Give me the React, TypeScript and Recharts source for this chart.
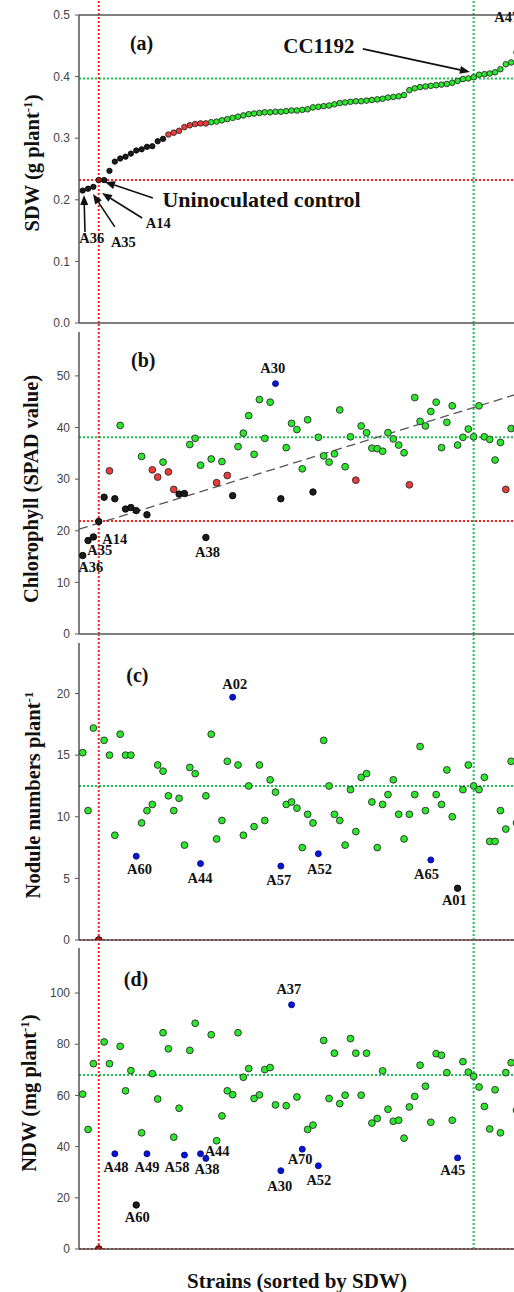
import React from 'react'
import { ScatterChart, Scatter, XAxis, YAxis, ReferenceLine, ReferenceDot } from 'recharts'

// strains sorted by SDW, index 0..81 (the rest is cut off at the right edge)
const SDW = [
  0.215, 0.218, 0.221, 0.232, 0.232, 0.247, 0.262, 0.267, 0.270, 0.275,
  0.280, 0.282, 0.286, 0.287, 0.295, 0.299, 0.306, 0.309, 0.312, 0.318,
  0.321, 0.323, 0.324, 0.324, 0.326, 0.327, 0.329, 0.331, 0.333, 0.335,
  0.337, 0.339, 0.340, 0.341, 0.342, 0.342, 0.343, 0.343, 0.344, 0.345,
  0.345, 0.346, 0.347, 0.350, 0.351, 0.352, 0.353, 0.355, 0.357, 0.358,
  0.359, 0.360, 0.360, 0.361, 0.362, 0.363, 0.364, 0.366, 0.367, 0.368,
  0.370, 0.378, 0.381, 0.383, 0.384, 0.385, 0.386, 0.387, 0.388, 0.390,
  0.393, 0.396, 0.397, 0.399, 0.403, 0.404, 0.405, 0.407, 0.412, 0.420,
  0.423, 0.439,
]
const SDW_GROUP = 'kkkckkkkkk' + 'kkkkkkrrrr' + 'rrrrgggggg' + 'gggggggggg' + 'gggggggggg' + 'gggggggggg' + 'gggggggggg' + 'gggggggggg' + 'gg'

const SPAD = [
  15.2, 18.1, 18.8, 21.8, 26.5, 31.6, 26.2, 40.4, 24.2, 24.5,
  23.9, 34.4, 23.1, 31.8, 30.4, 33.3, 31.4, 28.0, 27.1, 27.2,
  36.7, 37.9, 32.7, 18.7, 33.9, 29.3, 33.4, 30.7, 26.8, 36.3,
  38.9, 42.3, 34.8, 45.4, 37.9, 44.9, 48.5, 26.2, 36.1, 40.8,
  39.6, 32.0, 41.5, 27.5, 38.1, 34.5, 33.3, 34.9, 43.4, 32.4,
  38.2, 29.8, 40.3, 39.0, 36.0, 35.9, 35.4, 39.0, 37.8, 36.6,
  35.1, 28.9, 45.8, 41.2, 40.3, 43.1, 44.9, 36.1, 41.0, 44.2,
  36.6, 38.1, 39.7, 38.2, 44.2, 38.2, 37.7, 33.7, 37.1, 28.0,
  39.8, 39.8,
]
const SPAD_GROUP = 'kkkkkrkgkk' + 'kgkrrgrrkk' + 'gggkgrgrkg' + 'ggggggbkgg' + 'gggkgggggg' + 'grgggggggg' + 'grgggggggg' + 'gggggggggr' + 'gg'
const SPAD_TREND = [{ x: -0.69, y: 20.3 }, { x: 89.31, y: 49.1 }]

const NOD = [
  15.2, 10.5, 17.2, 0, 16.2, 15.0, 8.5, 16.7, 15.0, 15.0,
  6.8, 9.5, 10.5, 11.0, 14.2, 13.7, 11.7, 10.5, 11.5, 7.7,
  14.0, 13.5, 6.2, 11.7, 16.7, 8.2, 9.7, 14.5, 19.7, 14.2,
  8.5, 12.5, 9.2, 14.2, 9.7, 13.0, 12.0, 6.0, 11.0, 11.2,
  10.7, 7.5, 10.2, 9.5, 7.0, 16.2, 12.5, 10.2, 9.7, 7.7,
  12.2, 8.8, 13.2, 13.5, 11.2, 7.5, 11.0, 11.8, 13.0, 10.2,
  8.2, 10.2, 11.8, 15.7, 10.5, 6.5, 11.8, 11.0, 13.8, 10.0,
  4.2, 12.2, 14.2, 12.5, 12.2, 13.2, 8.0, 8.0, 10.5, 9.0,
  14.5, 9.5,
]
const NOD_GROUP = 'gggcgggggg' + 'bggggggggg' + 'ggbgggggbg' + 'gggggggbgg' + 'ggggbggggg' + 'gggggggggg' + 'gggggbgggg' + 'kggggggggg' + 'gg'

const NDW = [
  60.5, 46.7, 72.4, 0, 80.9, 72.4, 37.2, 79.2, 61.8, 69.7,
  17.2, 45.4, 37.2, 68.5, 58.6, 84.5, 78.2, 43.7, 55.0, 36.7,
  77.6, 88.2, 37.2, 35.4, 83.7, 42.3, 52.0, 61.8, 60.3, 84.5,
  67.1, 70.5, 58.8, 60.2, 70.1, 70.9, 56.3, 30.6, 56.0, 95.4,
  59.4, 39.0, 46.7, 48.4, 32.5, 81.5, 58.8, 76.5, 56.8, 60.1,
  82.2, 76.5, 60.1, 76.5, 49.2, 51.0, 69.6, 54.6, 49.9, 50.3,
  43.3, 55.5, 59.6, 71.8, 63.6, 49.5, 76.3, 75.7, 68.9, 50.3,
  35.6, 73.2, 69.1, 67.5, 63.3, 55.7, 46.9, 62.2, 45.4, 68.9,
  72.8, 54.2,
]
const NDW_GROUP = 'gggcggbggg' + 'kgbggggggb' + 'ggbbgggggg' + 'gggggggbgb' + 'gbggbggggg' + 'gggggggggg' + 'gggggggggg' + 'bggggggggg' + 'gg'

const CONTROL_IDX = 3
const CC1192_IDX = 73
const X_DOMAIN: [number, number] = [-0.69, 89.31]

// text annotations [label, x, y]
const LABELS_A: [string, number, number][] = [
  ['A14', 14.1, 0.162], ['A35', 7.6, 0.132], ['A36', 1.7, 0.1375], ['A47', 79.2, 0.497],
]
const LABELS_B: [string, number, number][] = [
  ['A30', 35.5, 51.5], ['A14', 6.0, 18.35], ['A35', 3.2, 16.2], ['A36', 1.5, 12.9], ['A38', 23.3, 15.8],
]
const LABELS_C: [string, number, number][] = [
  ['A02', 28.4, 20.8], ['A60', 10.6, 5.8], ['A44', 21.9, 5.0], ['A57', 36.6, 4.9],
  ['A52', 44.2, 5.8], ['A65', 64.2, 5.35], ['A01', 69.4, 3.25],
]
const LABELS_D: [string, number, number][] = [
  ['A48', 6.2, 32.2], ['A49', 12.0, 32.2], ['A58', 17.6, 32.2], ['A44', 25.1, 38.4], ['A38', 23.2, 31.4],
  ['A60', 10.2, 12.6], ['A37', 38.5, 101.5], ['A70', 40.6, 35.0], ['A30', 36.8, 24.6],
  ['A52', 44.1, 27.0], ['A45', 69.1, 30.9],
]
// arrows in panel (a): [x1, y1, x2 (tip), y2 (tip)]
const ARROWS_A: [number, number, number, number][] = [
  [52.3, 0.445, 72.3, 0.4075],
  [13.1, 0.203, 4.16, 0.229],
  [11.1, 0.1705, 3.6, 0.211],
  [6.0, 0.156, 1.92, 0.2094],
  [0.43, 0.1477, 0.24, 0.2078],
]

const COLORS: Record<string, { fill: string; stroke: string }> = {
  g: { fill: '#2be82b', stroke: '#2a2a2a' },
  r: { fill: '#f03a3a', stroke: '#2a2a2a' },
  k: { fill: '#1c1c1c', stroke: '#000' },
  b: { fill: '#0a14d8', stroke: '#000a80' },
  c: { fill: '#b01515', stroke: '#111' },
}
const RED = '#ff1f1f'
const GREEN = '#1fbf55'
const AXIS = '#555'
const SERIF = '"Liberation Serif", "Times New Roman", serif'
const SANS = '"Liberation Sans", Arial, sans-serif'
const BOTTOM = 9 // room under each plot for the last tick label

const toPoints = (vals: number[], groups: string) => vals.map((v, i) => ({ x: i, y: v, g: groups[i] }))

const dotShape = (r: number) => (p: any) => {
  const g = p.payload?.g ?? 'g'
  const c = COLORS[g]
  const rr = g === 'b' ? r * 0.88 : g === 'k' ? r * 0.95 : r
  return <circle cx={p.cx} cy={p.cy} r={rr} fill={c.fill} stroke={c.stroke} strokeWidth={0.9} />
}

const textShape = (text: string, size: number) => (p: any) => (
  <text x={p.cx} y={p.cy} textAnchor="middle" dominantBaseline="central" fontFamily={SERIF} fontWeight="bold" fontSize={size} fill="#111">
    {text}
  </text>
)

const arrowShape = (p: any) => {
  const { x1, y1, x2, y2 } = p
  const a = Math.atan2(y2 - y1, x2 - x1)
  const L = 10, W = 4
  const bx = x2 - L * Math.cos(a), by = y2 - L * Math.sin(a)
  const pts = `${x2},${y2} ${bx + W * Math.sin(a)},${by - W * Math.cos(a)} ${bx - W * Math.sin(a)},${by + W * Math.cos(a)}`
  return (
    <g>
      <line x1={x1} y1={y1} x2={bx} y2={by} stroke="#111" strokeWidth={1.6} />
      <polygon points={pts} fill="#111" />
    </g>
  )
}

interface PanelProps {
  top: number
  plotBottom: number
  marginTop: number
  data: { x: number; y: number; g: string }[]
  yTop: number
  ticks: number[]
  fmt?: (v: number) => string
  red: number
  green: number
  r: number
  tag: string
  tagAt: [number, number]
  labels: [string, number, number][]
  children?: React.ReactNode
}

function Panel({ top, plotBottom, marginTop, data, yTop, ticks, fmt, red, green, r, tag, tagAt, labels, children }: PanelProps) {
  const height = plotBottom - top + 4 + BOTTOM
  const plotH = plotBottom - top - marginTop
  const ext = yTop + (marginTop * yTop) / plotH // reach up to the panel above
  return (
    <div style={{ position: 'absolute', left: 0, top }}>
      <ScatterChart width={561} height={height} margin={{ top: marginTop, right: 0, bottom: BOTTOM, left: 0 }}>
        <XAxis type="number" dataKey="x" domain={X_DOMAIN} allowDataOverflow tick={false} tickLine={false} height={4} axisLine={{ stroke: AXIS, strokeWidth: 1.5 }} />
        <YAxis
          type="number" dataKey="y" domain={[0, yTop]} allowDataOverflow ticks={ticks} interval={0}
          tickFormatter={fmt} width={79} tickSize={4} tickMargin={5}
          tick={{ fontSize: 12, fill: '#444', fontFamily: SANS }}
          axisLine={{ stroke: AXIS, strokeWidth: 1.5 }} tickLine={{ stroke: AXIS }}
        />
        <ReferenceLine y={red} stroke={RED} strokeWidth={2} strokeDasharray="2 2" />
        <ReferenceLine y={green} stroke={GREEN} strokeWidth={2} strokeDasharray="2 2" />
        <ReferenceLine segment={[{ x: CONTROL_IDX, y: 0 }, { x: CONTROL_IDX, y: ext }]} ifOverflow="visible" stroke={RED} strokeWidth={2} strokeDasharray="2 2" />
        <ReferenceLine segment={[{ x: CC1192_IDX, y: 0 }, { x: CC1192_IDX, y: ext }]} ifOverflow="visible" stroke={GREEN} strokeWidth={2} strokeDasharray="2 2" />
        {children}
        <Scatter data={data} isAnimationActive={false} shape={dotShape(r)} />
        <ReferenceDot x={tagAt[0]} y={tagAt[1]} r={0} ifOverflow="visible" shape={textShape(tag, 20)} />
        {labels.map(([t, x, y], i) => (
          <ReferenceDot key={i} x={x} y={y} r={0} ifOverflow="visible" shape={textShape(t, 14.5)} />
        ))}
      </ScatterChart>
    </div>
  )
}

const yTitle = (cx: number, cy: number, content: React.ReactNode) => (
  <div
    style={{
      position: 'absolute', left: cx, top: cy, transform: 'translate(-50%, -50%) rotate(-90deg)',
      whiteSpace: 'nowrap', fontFamily: SERIF, fontWeight: 'bold', fontSize: 20.5, color: '#111', lineHeight: '24px',
    }}
  >
    {content}
  </div>
)

export default function App() {
  const supStyle = { fontSize: 13 }
  return (
    <div style={{ position: 'absolute', left: 0, top: 0, width: 514, height: 1292, overflow: 'hidden', background: '#fff' }}>
      <Panel
        top={0} plotBottom={323} marginTop={15} data={toPoints(SDW, SDW_GROUP)} yTop={0.5}
        ticks={[0, 0.1, 0.2, 0.3, 0.4, 0.5]} fmt={(v) => v.toFixed(1)} red={0.232} green={0.397} r={2.8}
        tag="(a)" tagAt={[11.0, 0.454]} labels={LABELS_A}
      >
        <ReferenceLine y={0.5} stroke={AXIS} strokeWidth={1.5} />
        {ARROWS_A.map(([x1, y1, x2, y2], i) => (
          <ReferenceLine key={i} segment={[{ x: x1, y: y1 }, { x: x2, y: y2 }]} ifOverflow="visible" shape={arrowShape} />
        ))}
        <ReferenceDot x={44.1} y={0.45} r={0} ifOverflow="visible" shape={textShape('CC1192', 21)} />
        <ReferenceDot x={33.4} y={0.1997} r={0} ifOverflow="visible" shape={textShape('Uninoculated control', 22)} />
      </Panel>
      <Panel
        top={324} plotBottom={634} marginTop={8} data={toPoints(SPAD, SPAD_GROUP)} yTop={58.5}
        ticks={[0, 10, 20, 30, 40, 50]} red={21.9} green={38.1} r={3.4}
        tag="(b)" tagAt={[11.3, 53.1]} labels={LABELS_B}
      >
        <ReferenceLine segment={SPAD_TREND} ifOverflow="hidden" stroke="#555" strokeWidth={1.3} strokeDasharray="9 5" />
      </Panel>
      <Panel
        top={635} plotBottom={940} marginTop={8} data={toPoints(NOD, NOD_GROUP)} yTop={24.1}
        ticks={[0, 5, 10, 15, 20]} red={0} green={12.5} r={3.4}
        tag="(c)" tagAt={[10.2, 21.5]} labels={LABELS_C}
      />
      <Panel
        top={941} plotBottom={1249} marginTop={7} data={toPoints(NDW, NDW_GROUP)} yTop={117.6}
        ticks={[0, 20, 40, 60, 80, 100]} red={0} green={68} r={3.4}
        tag="(d)" tagAt={[9.95, 105.4]} labels={LABELS_D}
      />
      {yTitle(30, 163, <>SDW (g plant<sup style={supStyle}>-1</sup>)</>)}
      {yTitle(31, 489, <>Chlorophyll (SPAD value)</>)}
      {yTitle(31, 795, <>Nodule numbers plant<sup style={supStyle}>-1</sup></>)}
      {yTitle(27, 1093, <>NDW (mg plant<sup style={supStyle}>-1</sup>)</>)}
      <div
        style={{
          position: 'absolute', left: 297, top: 1281, transform: 'translate(-50%, -50%)', whiteSpace: 'nowrap',
          fontFamily: SERIF, fontWeight: 'bold', fontSize: 21, color: '#111',
        }}
      >
        Strains (sorted by SDW)
      </div>
    </div>
  )
}
